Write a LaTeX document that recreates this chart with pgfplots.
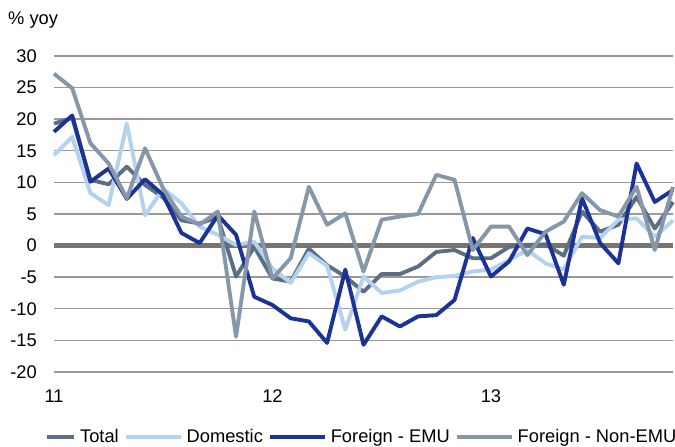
\documentclass[border=0pt]{standalone}
\usepackage{fontspec}
\setmainfont{Liberation Sans}
\usepackage{pgfplots}
\pgfplotsset{compat=1.18}
\usepackage{pgfplotstable}

\definecolor{ctotal}{HTML}{5B6F84}
\definecolor{cdom}{HTML}{B4D2F0}
\definecolor{cemu}{HTML}{1C3396}
\definecolor{cnon}{HTML}{8597A9}
\definecolor{cgrid}{HTML}{999999}
\definecolor{czero}{HTML}{787470}

\pgfplotsset{
  leglong/.style={legend image code/.code={\draw[##1] (0bp,0bp) -- (55bp,0bp);}},
  legshort/.style={legend image code/.code={\draw[##1] (0bp,0bp) -- (27bp,0bp);}},
}

\pgfplotstableread{
i total dom emu non
0 19.3 14.3 18.0 27.2
1 20.2 17.2 20.6 24.9
2 10.4 8.3 10.1 16.2
3 9.7 6.4 12.2 13.0
4 12.5 19.3 7.4 7.5
5 9.6 4.8 10.5 15.4
6 7.6 9.0 8.0 9.0
7 4.0 6.7 2.0 4.6
8 3.5 3.0 0.4 3.3
9 4.5 1.7 4.8 5.4
10 -4.9 0.1 1.7 -14.4
11 -0.2 0.6 -8.1 5.4
12 -5.2 -3.6 -9.4 -5.2
13 -5.7 -5.9 -11.5 -2.0
14 -0.5 -1.2 -12.0 9.3
15 -3.1 -3.2 -15.4 3.3
16 -4.9 -13.3 -3.8 5.1
17 -7.3 -4.9 -15.7 -4.1
18 -4.5 -7.5 -11.2 4.1
19 -4.5 -7.1 -12.8 4.6
20 -3.3 -5.7 -11.2 5.0
21 -1.0 -5.0 -11.0 11.2
22 -0.7 -4.8 -8.6 10.4
23 -2.0 -4.1 1.2 -0.7
24 -2.0 -3.8 -4.9 3.0
25 -0.2 -2.3 -2.5 3.0
26 0.1 -0.7 2.7 -1.5
27 0.2 -2.8 1.8 2.2
28 -1.6 -3.8 -6.2 3.8
29 5.4 1.4 7.5 8.3
30 2.2 1.2 0.4 5.6
31 3.3 4.1 -2.8 4.6
32 7.7 4.3 13.0 9.3
33 2.7 1.4 6.9 -0.7
34 6.9 4.0 8.8 9.3
}\datatable

\newcommand{\lfont}{\fontsize{18.3bp}{22bp}\selectfont}

\begin{document}
\begin{tikzpicture}
\useasboundingbox (0,0) rectangle (675bp,447bp);
\node[anchor=west, inner sep=0pt, font=\lfont] at (8bp,427bp) {\% yoy};
\begin{axis}[
  at={(54bp,75bp)}, anchor=south west,
  scale only axis, width=619bp, height=316bp,
  xmin=0, xmax=34, ymin=-20, ymax=30,
  axis line style={draw=none},
  major tick length=0pt,
  xtick={0,12,24}, xticklabels={11,12,13},
  ytick={-20,-15,...,30},
  ymajorgrids, grid style={cgrid, line width=1.4bp},
  /pgf/number format/assume math mode=true,
  tick label style={font=\lfont},
  yticklabel style={inner sep=0pt, anchor=east, xshift=-17bp},
  xticklabel style={inner sep=0pt, anchor=north, yshift=-18bp},
  clip=false,
  legend columns=4,
  legend style={at={(-0.01454,-0.2057)}, anchor=west, draw=none, fill=none,
    inner sep=0pt, font=\lfont, nodes={inner sep=0pt},
    /tikz/every odd column/.append style={column sep=4bp},
    /tikz/every even column/.append style={column sep=5bp}},
  every axis plot/.append style={line width=3.9bp, line join=round},
]
\addplot[czero, line width=4.2bp, forget plot] coordinates {(0,0) (34,0)};
\addplot[ctotal, legshort] table[x=i, y=total] {\datatable};
\addlegendentry{Total}
\addplot[cdom, leglong] table[x=i, y=dom] {\datatable};
\addlegendentry{Domestic}
\addplot[cemu, leglong] table[x=i, y=emu] {\datatable};
\addlegendentry{Foreign - EMU}
\addplot[cnon, leglong] table[x=i, y=non] {\datatable};
\addlegendentry{Foreign - Non-EMU}
\end{axis}
\end{tikzpicture}
\end{document}
